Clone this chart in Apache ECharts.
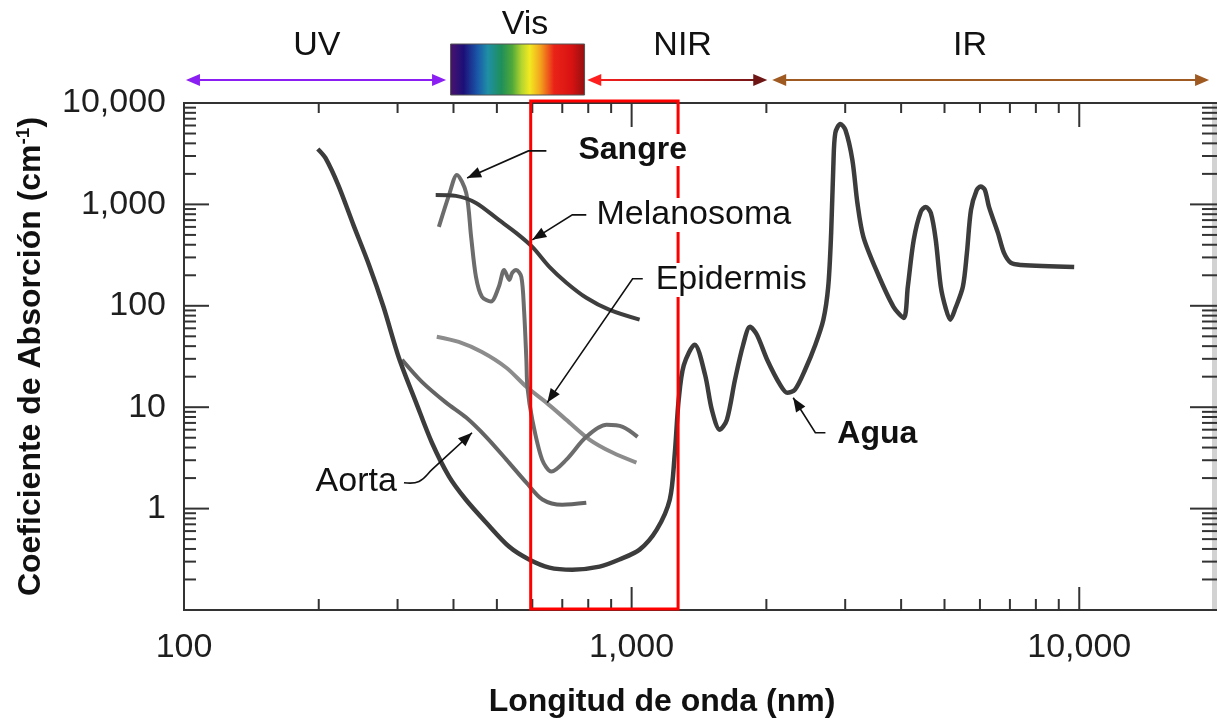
<!DOCTYPE html>
<html>
<head>
<meta charset="utf-8">
<title>Coeficiente de absorción</title>
<script src="https://cdn.jsdelivr.net/npm/echarts@6/dist/echarts.min.js"></script>
<style>
  html, body { margin: 0; padding: 0; background: #fff; }
  #chart { width: 1217px; height: 723px; }
</style>
</head>
<body>
<div id="chart"></div>
<script>
// curvas: longitud de onda (nm) / coeficiente de absorción (cm-1)
var aguaWave = [199, 207, 221, 239, 259, 279, 302, 330, 358, 391, 426, 473, 533, 590, 655, 737, 848, 939, 1042, 1138,
  1217, 1248, 1274, 1308, 1383, 1459, 1511, 1574, 1632, 1702, 1775, 1839, 1905, 2008, 2146, 2227, 2317, 2441, 2573,
  2681, 2749, 2791, 2822, 2851, 2926, 3004, 3113, 3194, 3294, 3542, 3846, 4054, 4140, 4268, 4424, 4540, 4660, 4780,
  4906, 5030, 5150, 5290, 5495, 5610, 5730, 5900, 6020, 6150, 6286, 6582, 6790, 7040, 7413, 9743];
var aguaAbs = [3520, 2870, 1556, 628, 253, 98, 30.8, 11.1, 4.46, 2.07, 1.23, 0.73, 0.42, 0.315, 0.262, 0.25, 0.268, 0.315, 0.394, 0.62,
  1.23, 3.4, 11.9, 26, 41.3, 20.9, 9.4, 6.0, 7.5, 18.7, 41.3, 62, 51.8, 29.4, 16.7, 13.9, 14.9, 23.4, 41.3,
  72.8, 154, 524, 2340, 5060, 6210, 5420, 2740, 1035, 479, 211, 97.8, 76, 154, 447, 843, 945, 824, 447,
  154, 95, 73, 95, 154, 330, 883, 1380, 1500, 1400, 945, 524, 333, 265, 253, 242];

var sangreWave = [371, 391, 407, 427, 438, 449, 463, 485, 505, 519, 533, 541, 552, 567, 575, 582, 585, 600, 631, 662, 715, 792, 879, 955, 1031];
var sangreAbs = [600, 1242, 1955, 1298, 478, 193, 123, 110, 154, 226, 180, 211, 226, 193, 91, 29, 15.9, 7.5, 3.04, 2.32, 3.04, 5.1, 6.7, 6.4, 5.1];

var melWave = [365, 405, 449, 505, 552, 600, 655, 715, 792, 893, 1042];
var melAbs = [1241, 1214, 1035, 703, 524, 381, 242, 169, 120, 91, 73];

var epiWave = [367, 411, 463, 525, 582, 645, 715, 805, 906, 1025];
var epiAbs = [49.6, 44, 35, 24.5, 15.9, 11.1, 7.5, 4.8, 3.57, 2.84];

var aortaWave = [307, 340, 385, 427, 473, 525, 582, 632, 700, 792];
var aortaAbs = [29.4, 17.8, 11.1, 7.9, 5.1, 3.04, 1.80, 1.23, 1.09, 1.14];

// ejes
var xMin = 100, xMax = 20000, yMin = 0.1, yMax = 10000;
var xMajorTicks = [100, 1000, 10000];
var xMinorTicks = [200, 300, 400, 500, 600, 700, 800, 900, 2000, 3000, 4000, 5000, 6000, 7000, 8000, 9000];
var yMajorTicks = [0.1, 1, 10, 100, 1000, 10000];
var yMinorTicks = [0.2, 0.3, 0.4, 0.5, 0.6, 0.7, 0.8, 0.9, 2, 3, 4, 5, 6, 7, 8, 9, 20, 30, 40, 50, 60, 70, 80, 90,
  200, 300, 400, 500, 600, 700, 800, 900, 2000, 3000, 4000, 5000, 6000, 7000, 8000, 9000];

// ventana terapéutica (nm)
var windowRange = [595, 1270];

// bandas del espectro (nm)
var bandNames = ['UV', 'Vis', 'NIR', 'IR'];
var bandFrom = [101, 394, 796, 2061];
var bandTo = [385, 785, 2009, 19500];
var bandLabelAt = [198, 578, 1300, 5700];

// etiquetas de las curvas: texto, punto del texto y flecha
var noteNames = ['Sangre', 'Melanosoma', 'Epidermis', 'Aorta', 'Agua'];
var noteTextAt = [[753, 3440], [826, 788], [1120, 180], [302, 1.85], [2851, 5.36]];
var noteLeaders = [
  [[645, 3370], [588, 3370], [429, 1824]],
  [[792, 788], [737, 788], [600, 447]],
  [[1059, 185], [1005, 185], [648, 11.1]],
  [[310, 1.80], [335, 1.85], [358, 2.42], [440, 5.6]],
  [[2710, 5.6], [2573, 5.6], [2296, 12.4]]
];

var FONT = "'Liberation Sans', Arial, Helvetica, sans-serif";

function pairs(xs, ys) {
  return xs.map(function (x, i) { return [x, ys[i]]; });
}

function isDecade(v) {
  var l = Math.log10(v);
  return Math.abs(l - Math.round(l)) < 1e-6;
}

function withCommas(v) {
  return String(Math.round(v)).replace(/\B(?=(\d{3})+(?!\d))/g, ',');
}

function arrowHead(from, to, len, half, color) {
  var dx = to[0] - from[0], dy = to[1] - from[1];
  var d = Math.sqrt(dx * dx + dy * dy);
  var ux = dx / d, uy = dy / d;
  var bx = to[0] - ux * len, by = to[1] - uy * len;
  return {
    type: 'polygon',
    shape: { points: [[to[0], to[1]], [bx - uy * half, by + ux * half], [bx + uy * half, by - ux * half]] },
    style: { fill: color }
  };
}

function renderFrame(params, api) {
  var cs = params.coordSys;
  var left = cs.x, right = cs.x + cs.width, top = cs.y, bottom = cs.y + cs.height;
  var kids = [];
  function seg(x1, y1, x2, y2, color, w) {
    kids.push({ type: 'line', shape: { x1: x1, y1: y1, x2: x2, y2: y2 }, style: { stroke: color || '#333', lineWidth: w || 2 } });
  }
  seg(right + 1, top, right + 1, bottom, '#d2d2d2', 6);
  seg(left, top, right + 4, top);
  seg(left, bottom, right + 4, bottom);
  seg(left, top - 1, left, bottom + 1);
  xMajorTicks.forEach(function (v) {
    var x = api.coord([v, 1])[0];
    seg(x, bottom, x, bottom - 23); seg(x, top, x, top + 24);
  });
  xMinorTicks.forEach(function (v) {
    var x = api.coord([v, 1])[0];
    seg(x, bottom, x, bottom - 11); seg(x, top, x, top + 10);
  });
  yMajorTicks.forEach(function (v) {
    var y = api.coord([1000, v])[1];
    seg(left, y, left + 25, y); seg(right + 4, y, right - 24, y);
  });
  yMinorTicks.forEach(function (v) {
    var y = api.coord([1000, v])[1];
    seg(left, y, left + 12, y); seg(right + 4, y, right - 12, y);
  });
  return { type: 'group', children: kids };
}

function renderWindow(params, api) {
  var p0 = api.coord([windowRange[0], yMax]);
  var p1 = api.coord([windowRange[1], yMin]);
  return {
    type: 'rect',
    shape: { x: p0[0], y: p0[1] - 2, width: p1[0] - p0[0], height: p1[1] - p0[1] + 1 },
    style: { fill: 'none', stroke: '#ff0000', lineWidth: 3 }
  };
}

function renderNotes(params, api) {
  var kids = [];
  noteNames.forEach(function (name, i) {
    var pts = noteLeaders[i].map(function (p) { return api.coord(p); });
    kids.push({
      type: 'polyline',
      shape: { points: pts, smooth: name === 'Aorta' ? 0.4 : 0 },
      style: { stroke: '#111', lineWidth: 1.6, fill: 'none' }
    });
    kids.push(arrowHead(pts[pts.length - 2], pts[pts.length - 1], 14, 5.5, '#111'));
    var t = api.coord(noteTextAt[i]);
    var bold = name === 'Sangre' || name === 'Agua';
    kids.push({
      type: 'text',
      x: t[0], y: t[1],
      style: {
        text: name, fontFamily: FONT, fontSize: bold ? 32 : 34, fontWeight: bold ? 'bold' : 'normal',
        fill: '#111', align: name === 'Aorta' ? 'right' : 'left', verticalAlign: 'middle',
        backgroundColor: '#fff', padding: [0, 2]
      }
    });
  });
  return { type: 'group', children: kids };
}

function renderBands(params, api) {
  var top = params.coordSys.y;
  var ay = top - 23;
  var kids = [];
  function px(v) { return api.coord([v, 1])[0]; }
  function dblArrow(x1, x2, c1, c2) {
    var stroke = c1 === c2 ? c1 : new echarts.graphic.LinearGradient(x1, 0, x2, 0, [
      { offset: 0, color: c1 }, { offset: 1, color: c2 }
    ], true);
    kids.push({ type: 'line', shape: { x1: x1 + 6, y1: ay, x2: x2 - 6, y2: ay }, style: { stroke: stroke, lineWidth: 2 } });
    kids.push(arrowHead([x1 + 20, ay], [x1, ay], 14, 6, c1));
    kids.push(arrowHead([x2 - 20, ay], [x2, ay], 14, 6, c2));
  }
  dblArrow(px(bandFrom[0]), px(bandTo[0]), '#8b1ef2', '#8b1ef2');
  dblArrow(px(bandFrom[2]), px(bandTo[2]), '#ff1e1e', '#6e1616');
  dblArrow(px(bandFrom[3]), px(bandTo[3]), '#9f5a22', '#9f5a22');

  var vx0 = px(bandFrom[1]), vx1 = px(bandTo[1]);
  kids.push({
    type: 'rect',
    shape: { x: vx0, y: top - 59, width: vx1 - vx0, height: 51 },
    style: {
      stroke: '#555', lineWidth: 1,
      fill: new echarts.graphic.LinearGradient(0, 0, 1, 0, [
        { offset: 0, color: '#4b136e' },
        { offset: 0.1, color: '#1c0f78' },
        { offset: 0.2, color: '#1a55a8' },
        { offset: 0.28, color: '#1f8fa6' },
        { offset: 0.38, color: '#1f8f5a' },
        { offset: 0.46, color: '#4ea83a' },
        { offset: 0.53, color: '#b5d52e' },
        { offset: 0.59, color: '#f2ea20' },
        { offset: 0.67, color: '#f3a21e' },
        { offset: 0.77, color: '#ea2318' },
        { offset: 0.9, color: '#d81212' },
        { offset: 1, color: '#931010' }
      ])
    }
  });

  bandNames.forEach(function (name, i) {
    kids.push({
      type: 'text',
      x: px(bandLabelAt[i]), y: name === 'Vis' ? top - 78 : top - 57,
      style: { text: name, fontFamily: FONT, fontSize: 34, fill: '#111', align: 'center', verticalAlign: 'middle' }
    });
  });
  return { type: 'group', children: kids };
}

function curve(name, xs, ys, color, width) {
  return {
    name: name,
    type: 'line',
    data: pairs(xs, ys),
    showSymbol: false,
    smooth: 0.3,
    z: 2,
    lineStyle: { color: color, width: width },
    silent: true
  };
}

var chart = echarts.init(document.getElementById('chart'));

var option = {
  animation: false,
  backgroundColor: '#fff',
  grid: { left: 184, top: 103, width: 1030, height: 507, containLabel: false },
  xAxis: {
    type: 'log',
    min: xMin,
    max: xMax,
    axisLine: { show: false },
    axisTick: { show: false },
    splitLine: { show: false },
    axisLabel: {
      fontFamily: FONT, fontSize: 34, color: '#1e1e1e', margin: 21,
      formatter: function (v) { return isDecade(v) ? withCommas(v) : ''; }
    },
    name: 'Longitud de onda (nm)',
    nameLocation: 'middle',
    nameGap: 76,
    nameTextStyle: { fontFamily: FONT, fontSize: 32, fontWeight: 'bold', color: '#111', padding: [0, 74, 0, 0] }
  },
  yAxis: {
    type: 'log',
    min: yMin,
    max: yMax,
    axisLine: { show: false },
    axisTick: { show: false },
    splitLine: { show: false },
    axisLabel: {
      fontFamily: FONT, fontSize: 34, color: '#1e1e1e', margin: 18,
      formatter: function (v) { return v >= 1 && isDecade(v) ? withCommas(v) : ''; }
    },
    name: '{t|Coeficiente de Absorción (cm}{s|-1}{t|)}',
    nameLocation: 'middle',
    nameGap: 136,
    nameTextStyle: {
      rich: {
        t: { fontFamily: FONT, fontSize: 32, fontWeight: 'bold', color: '#111', lineHeight: 34 },
        s: { fontFamily: FONT, fontSize: 19, fontWeight: 'bold', color: '#111', lineHeight: 34, verticalAlign: 'top' }
      }
    }
  },
  series: [
    { type: 'custom', renderItem: renderFrame, data: [[1000, 1]], clip: false, silent: true, z: 1 },
    curve('Aorta', aortaWave, aortaAbs, '#646464', 4),
    curve('Epidermis', epiWave, epiAbs, '#8c8c8c', 4),
    curve('Sangre', sangreWave, sangreAbs, '#6c6c6c', 4),
    curve('Melanosoma', melWave, melAbs, '#3e3e3e', 4),
    curve('Agua', aguaWave, aguaAbs, '#3c3c3c', 4.5),
    { type: 'custom', renderItem: renderWindow, data: [[1000, 1]], clip: false, silent: true, z: 3 },
    { type: 'custom', renderItem: renderNotes, data: [[1000, 1]], clip: false, silent: true, z: 4 },
    { type: 'custom', renderItem: renderBands, data: [[1000, 1]], clip: false, silent: true, z: 4 }
  ]
};

chart.setOption(option);

window.addEventListener('resize', function () {
  chart.resize();
});
</script>
</body>
</html>
